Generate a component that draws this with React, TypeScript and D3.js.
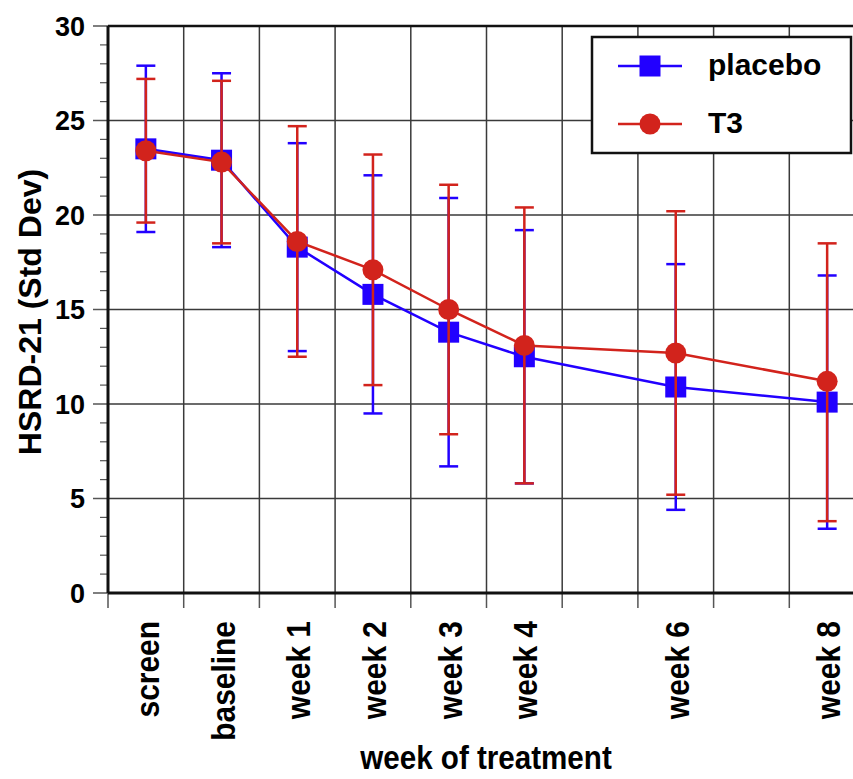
import React, { useEffect, useRef } from 'react';
import * as d3 from 'd3';

// visits on the x axis (week number used for spacing)
const categories = ['screen', 'baseline', 'week 1', 'week 2', 'week 3', 'week 4', 'week 6', 'week 8'];
const weeks = [-1, 0, 1, 2, 3, 4, 6, 8];

// HSRD-21 mean and +/- SD ends
const placeboMean = [23.5, 22.9, 18.3, 15.8, 13.8, 12.5, 10.9, 10.1];
const placeboHigh = [27.9, 27.5, 23.8, 22.1, 20.9, 19.2, 17.4, 16.8];
const placeboLow = [19.1, 18.3, 12.8, 9.5, 6.7, 5.8, 4.4, 3.4];

const t3Mean = [23.4, 22.8, 18.6, 17.1, 15.0, 13.1, 12.7, 11.2];
const t3High = [27.2, 27.1, 24.7, 23.2, 21.6, 20.4, 20.2, 18.5];
const t3Low = [19.6, 18.5, 12.5, 11.0, 8.4, 5.8, 5.2, 3.8];

const yTicks = [0, 5, 10, 15, 20, 25, 30];

const BLUE = '#2200ff';
const RED = '#d2231c';
const FONT = '"Liberation Sans", Arial, Helvetica, sans-serif';

export default function App() {
  const ref = useRef<SVGSVGElement | null>(null);

  useEffect(() => {
    const svg = d3.select(ref.current);
    svg.selectAll('*').remove();

    const W = 853;
    const x = d3.scaleLinear().domain([-1.5, 8.5]).range([108, 865]);
    const y = d3.scaleLinear().domain([0, 30]).range([593, 26]);
    const left = x(-1.5), bottom = y(0), top = y(30);

    // grid
    const g = svg.append('g');
    d3.range(-0.5, 9, 1).forEach(v => {
      g.append('line')
        .attr('x1', x(v)).attr('x2', x(v))
        .attr('y1', top).attr('y2', bottom)
        .attr('stroke', '#3a3a3a').attr('stroke-width', 1.5);
    });
    yTicks.slice(1, -1).forEach(v => {
      g.append('line')
        .attr('x1', left).attr('x2', W)
        .attr('y1', y(v)).attr('y2', y(v))
        .attr('stroke', '#3a3a3a').attr('stroke-width', 1.5);
    });

    // x ticks under the axis
    d3.range(-1.5, 9, 1).forEach(v => {
      g.append('line')
        .attr('x1', x(v)).attr('x2', x(v))
        .attr('y1', bottom).attr('y2', bottom + 15)
        .attr('stroke', '#555').attr('stroke-width', 1.5);
    });

    // y ticks: minor every 1, major every 5
    d3.range(0, 31, 1).forEach(v => {
      const major = v % 5 === 0;
      g.append('line')
        .attr('x1', major ? left - 15 : left - 8).attr('x2', left)
        .attr('y1', y(v)).attr('y2', y(v))
        .attr('stroke', '#555').attr('stroke-width', major ? 1.5 : 1.2);
    });

    // frame
    g.append('line').attr('x1', left).attr('x2', W).attr('y1', top).attr('y2', top)
      .attr('stroke', '#111').attr('stroke-width', 2.5);
    g.append('line').attr('x1', left).attr('x2', W).attr('y1', bottom).attr('y2', bottom)
      .attr('stroke', '#111').attr('stroke-width', 3);
    g.append('line').attr('x1', left).attr('x2', left).attr('y1', top).attr('y2', bottom)
      .attr('stroke', '#111').attr('stroke-width', 3);

    // y tick labels
    svg.append('g').selectAll('text')
      .data(yTicks)
      .enter()
      .append('text')
      .attr('x', 85)
      .attr('y', d => y(d) + 9.5)
      .attr('text-anchor', 'end')
      .style('font-family', FONT)
      .style('font-weight', 'bold')
      .style('font-size', '27px')
      .text(d => d);

    // x category labels, rotated
    svg.append('g').selectAll('text')
      .data(categories)
      .enter()
      .append('text')
      .attr('transform', (d, i) => `translate(${x(weeks[i]) + 13},621) rotate(-90) scale(0.88,1)`)
      .attr('text-anchor', 'end')
      .style('font-family', FONT)
      .style('font-weight', 'bold')
      .style('font-size', '34px')
      .text(d => d);

    // axis titles
    svg.append('text')
      .attr('transform', `translate(41,312) rotate(-90)`)
      .attr('text-anchor', 'middle')
      .style('font-family', FONT)
      .style('font-weight', 'bold')
      .style('font-size', '32px')
      .text('HSRD-21 (Std Dev)');

    svg.append('text')
      .attr('transform', `translate(486,769) scale(0.87,1)`)
      .attr('text-anchor', 'middle')
      .style('font-family', FONT)
      .style('font-weight', 'bold')
      .style('font-size', '34px')
      .text('week of treatment');

    const line = d3.line<[number, number]>().x(d => x(d[0])).y(d => y(d[1]));

    function drawSeries(mean: number[], hi: number[], lo: number[], color: string, shape: 'square' | 'circle') {
      const s = svg.append('g');
      weeks.forEach((w, i) => {
        const cx = x(w);
        s.append('line').attr('x1', cx).attr('x2', cx).attr('y1', y(hi[i])).attr('y2', y(lo[i]))
          .attr('stroke', color).attr('stroke-width', 2.5);
        [hi[i], lo[i]].forEach(v => {
          s.append('line').attr('x1', cx - 9.5).attr('x2', cx + 9.5).attr('y1', y(v)).attr('y2', y(v))
            .attr('stroke', color).attr('stroke-width', 2.5);
        });
      });
      s.append('path')
        .datum(weeks.map((w, i) => [w, mean[i]] as [number, number]))
        .attr('d', line)
        .attr('fill', 'none')
        .attr('stroke', color)
        .attr('stroke-width', 2.5);
      weeks.forEach((w, i) => {
        if (shape === 'square') {
          s.append('rect').attr('x', x(w) - 10.5).attr('y', y(mean[i]) - 10.5)
            .attr('width', 21).attr('height', 21).attr('fill', color);
        } else {
          s.append('circle').attr('cx', x(w)).attr('cy', y(mean[i])).attr('r', 10.5).attr('fill', color);
        }
      });
    }

    drawSeries(placeboMean, placeboHigh, placeboLow, BLUE, 'square');
    drawSeries(t3Mean, t3High, t3Low, RED, 'circle');

    // legend
    const lg = svg.append('g');
    lg.append('rect').attr('x', 592).attr('y', 37).attr('width', 259).attr('height', 116)
      .attr('fill', '#fff').attr('stroke', '#111').attr('stroke-width', 2.5);
    const items = [
      { name: 'placebo', color: BLUE, shape: 'square', yy: 66 },
      { name: 'T3', color: RED, shape: 'circle', yy: 124 },
    ];
    items.forEach(it => {
      lg.append('line').attr('x1', 618).attr('x2', 682).attr('y1', it.yy).attr('y2', it.yy)
        .attr('stroke', it.color).attr('stroke-width', 2.5);
      if (it.shape === 'square') {
        lg.append('rect').attr('x', 639.5).attr('y', it.yy - 10.5).attr('width', 21).attr('height', 21).attr('fill', it.color);
      } else {
        lg.append('circle').attr('cx', 650).attr('cy', it.yy).attr('r', 10.5).attr('fill', it.color);
      }
      lg.append('text').attr('x', 708).attr('y', it.yy + 9)
        .style('font-family', FONT).style('font-weight', 'bold').style('font-size', '30px')
        .text(it.name);
    });
  }, []);

  return (
    <svg ref={ref} width={853} height={779}
      style={{ position: 'absolute', left: 0, top: 0, background: '#fff', overflow: 'hidden' }} />
  );
}
